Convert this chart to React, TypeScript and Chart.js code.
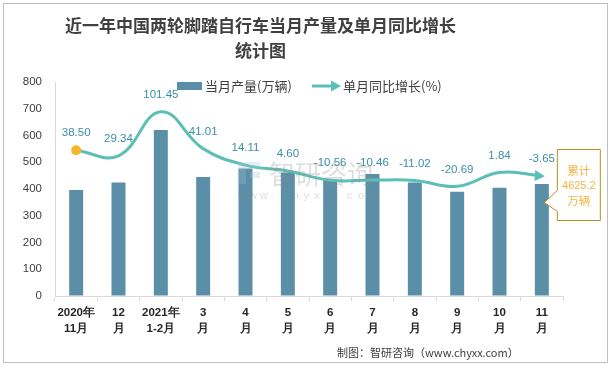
import { useEffect, useRef } from "react";
import { Chart, registerables } from "chart.js";

Chart.register(...registerables);

const categories: string[][] = [
  ["2020年", "11月"],
  ["12", "月"],
  ["2021年", "1-2月"],
  ["3", "月"],
  ["4", "月"],
  ["5", "月"],
  ["6", "月"],
  ["7", "月"],
  ["8", "月"],
  ["9", "月"],
  ["10", "月"],
  ["11", "月"],
];
const production = [396, 424, 621, 445, 477, 462, 434, 456, 424, 390, 405, 419];
const yoyGrowth = [38.5, 29.34, 101.45, 41.01, 14.11, 4.6, -10.56, -10.46, -11.02, -20.69, 1.84, -3.65];
const yoyLabels = ["38.50", "29.34", "101.45", "41.01", "14.11", "4.60", "-10.56", "-10.46", "-11.02", "-20.69", "1.84", "-3.65"];
const cumulativeNote = ["累计", "4625.2", "万辆"];
const legendLabels = ["当月产量(万辆)", "单月同比增长(%)"];

const BAR_COLOR = "#5b8fa7";
const LINE_COLOR = "#5cbfb6";
const LABEL_COLOR = "#3a8ea6";
const NOTE_COLOR = "#f3b53f";
const CJK = '"Noto Sans CJK SC", "Noto Sans", sans-serif';
const NUM = '"Liberation Sans", "Noto Sans", sans-serif';

const decorPlugin = {
  id: "decor",
  afterDatasetsDraw(chart: any) {
    const ctx = chart.ctx as CanvasRenderingContext2D;
    const meta = chart.getDatasetMeta(1);
    const pts = meta.data;

    // watermark
    ctx.save();
    ctx.globalAlpha = 0.28;
    ctx.fillStyle = "#9fbfd8";
    ctx.fillRect(238, 162, 8, 22);
    ctx.fillRect(246, 162, 14, 6);
    ctx.fillRect(250, 172, 10, 6);
    ctx.fillStyle = "#8a8a8a";
    ctx.font = `26px ${CJK}`;
    ctx.textAlign = "left";
    ctx.textBaseline = "middle";
    ctx.fillText("智研咨询", 269, 174);
    ctx.font = `11px ${NUM}`;
    const wm = "www.chyxx.com";
    for (let i = 0; i < wm.length; i++) {
      ctx.fillText(wm[i], 238 + i * 10.9, 196);
    }
    ctx.restore();

    // arrowhead at end of line
    const last = pts[pts.length - 1];
    if (last) {
      let dx = last.x - (last.cp1x ?? last.x - 10);
      let dy = last.y - (last.cp1y ?? last.y);
      const len = Math.hypot(dx, dy) || 1;
      dx /= len;
      dy /= len;
      const tipX = last.x + dx * 3;
      const tipY = last.y + dy * 3;
      const bx = tipX - dx * 10;
      const by = tipY - dy * 10;
      ctx.save();
      ctx.fillStyle = LINE_COLOR;
      ctx.beginPath();
      ctx.moveTo(tipX, tipY);
      ctx.lineTo(bx - dy * 5.5, by + dx * 5.5);
      ctx.lineTo(bx + dy * 5.5, by - dx * 5.5);
      ctx.closePath();
      ctx.fill();
      ctx.restore();
    }

    // data labels
    ctx.save();
    ctx.fillStyle = LABEL_COLOR;
    ctx.font = `11.5px ${NUM}`;
    ctx.textAlign = "center";
    ctx.textBaseline = "middle";
    pts.forEach((p: any, i: number) => {
      ctx.fillText(yoyLabels[i], p.x, p.y - 17);
    });
    ctx.restore();

    // callout
    if (last) {
      const left = last.x + 15.5;
      const top = 149.5;
      const w = 43;
      const h = 71;
      ctx.save();
      ctx.fillStyle = "#ffffff";
      ctx.strokeStyle = "#b8901e";
      ctx.lineWidth = 1;
      ctx.beginPath();
      ctx.moveTo(left, top);
      ctx.lineTo(left + w, top);
      ctx.lineTo(left + w, top + h);
      ctx.lineTo(left, top + h);
      ctx.lineTo(left, top + 62);
      ctx.lineTo(left - 13, top + 53);
      ctx.lineTo(left, top + 41);
      ctx.closePath();
      ctx.fill();
      ctx.stroke();
      ctx.fillStyle = NOTE_COLOR;
      ctx.textAlign = "center";
      ctx.textBaseline = "middle";
      ctx.font = `11.5px ${CJK}`;
      ctx.fillText(cumulativeNote[0], left + w / 2, 171);
      ctx.font = `11px ${NUM}`;
      ctx.fillText(cumulativeNote[1], left + w / 2, 186);
      ctx.font = `11.5px ${CJK}`;
      ctx.fillText(cumulativeNote[2], left + w / 2, 201);
      ctx.restore();
    }

    // legend
    ctx.save();
    ctx.fillStyle = BAR_COLOR;
    ctx.fillRect(177, 82, 25, 8);
    ctx.fillStyle = "#404040";
    ctx.font = `13px ${CJK}`;
    ctx.textAlign = "left";
    ctx.textBaseline = "middle";
    ctx.fillText(legendLabels[0], 205, 86);
    ctx.strokeStyle = LINE_COLOR;
    ctx.lineWidth = 3;
    ctx.beginPath();
    ctx.moveTo(312, 86);
    ctx.lineTo(332, 86);
    ctx.stroke();
    ctx.fillStyle = LINE_COLOR;
    ctx.beginPath();
    ctx.moveTo(341, 86);
    ctx.lineTo(331, 80.5);
    ctx.lineTo(331, 91.5);
    ctx.closePath();
    ctx.fill();
    ctx.fillStyle = "#404040";
    ctx.fillText(legendLabels[1], 343, 86);
    ctx.restore();
  },
};

export default function App() {
  const ref = useRef<HTMLCanvasElement | null>(null);

  useEffect(() => {
    if (!ref.current) return;
    const chart = new Chart(ref.current, {
      type: "bar",
      data: {
        labels: categories,
        datasets: [
          {
            type: "bar",
            label: legendLabels[0],
            data: production,
            backgroundColor: BAR_COLOR,
            barPercentage: 0.33,
            categoryPercentage: 1,
            yAxisID: "y",
            order: 2,
          },
          {
            type: "line",
            label: legendLabels[1],
            data: yoyGrowth,
            borderColor: LINE_COLOR,
            borderWidth: 3,
            tension: 0.42,
            fill: false,
            pointRadius: (c: any) => (c.dataIndex === 0 ? 5 : 0),
            pointBackgroundColor: "#f5b72a",
            pointBorderColor: "#f5b72a",
            pointBorderWidth: 0,
            yAxisID: "y2",
            order: 1,
          } as any,
        ],
      },
      options: {
        animation: false,
        responsive: false,
        maintainAspectRatio: false,
        layout: { padding: { left: 0, right: 50, top: 82, bottom: 0 } },
        plugins: {
          legend: { display: false },
          title: { display: false },
          tooltip: { enabled: false },
        },
        scales: {
          x: {
            offset: true,
            grid: {
              display: true,
              offset: true,
              drawOnChartArea: false,
              drawTicks: true,
              tickLength: 5,
              color: "#d9d9d9",
            },
            border: { display: true, color: "#d9d9d9" },
            ticks: {
              color: "#262626",
              font: { family: NUM, size: 11.5, weight: "bold", lineHeight: 1.45 },
              padding: 3,
              maxRotation: 0,
              autoSkip: false,
            },
            afterFit(scale: any) {
              scale.height = 72;
            },
          },
          y: {
            position: "left",
            min: 0,
            max: 800,
            ticks: {
              stepSize: 100,
              color: "#404040",
              font: { family: NUM, size: 11.5 },
              padding: 13,
            },
            grid: { display: true, drawOnChartArea: false, drawTicks: false, color: "#d9d9d9" },
            border: { display: true, color: "#d9d9d9" },
            afterFit(scale: any) {
              scale.width = 55;
            },
          },
          y2: {
            position: "right",
            display: false,
            min: -200,
            max: 150,
          },
        },
      } as any,
      plugins: [decorPlugin],
    });
    return () => chart.destroy();
  }, []);

  return (
    <div style={{ position: "fixed", left: 0, top: 0, width: 613, height: 368, background: "#fff" }}>
      <div
        style={{
          position: "absolute",
          left: 3,
          top: 3,
          width: 605,
          height: 360,
          border: "1px solid #bfbfbf",
          boxSizing: "border-box",
        }}
      />
      <canvas ref={ref} width={613} height={368} style={{ position: "absolute", left: 0, top: 0, width: 613, height: 368 }} />
      <div
        style={{
          position: "absolute",
          left: 0,
          top: 12,
          width: 521,
          textAlign: "center",
          fontFamily: CJK,
          fontWeight: 700,
          fontSize: 17,
          lineHeight: "25px",
          color: "#404040",
        }}
      >
        近一年中国两轮脚踏自行车当月产量及单月同比增长
        <br />
        统计图
      </div>
      <div
        style={{
          position: "absolute",
          left: 337,
          top: 344,
          fontFamily: CJK,
          fontSize: 11,
          lineHeight: "16px",
          color: "#404040",
          whiteSpace: "nowrap",
        }}
      >
        制图：智研咨询（www.chyxx.com）
      </div>
    </div>
  );
}
